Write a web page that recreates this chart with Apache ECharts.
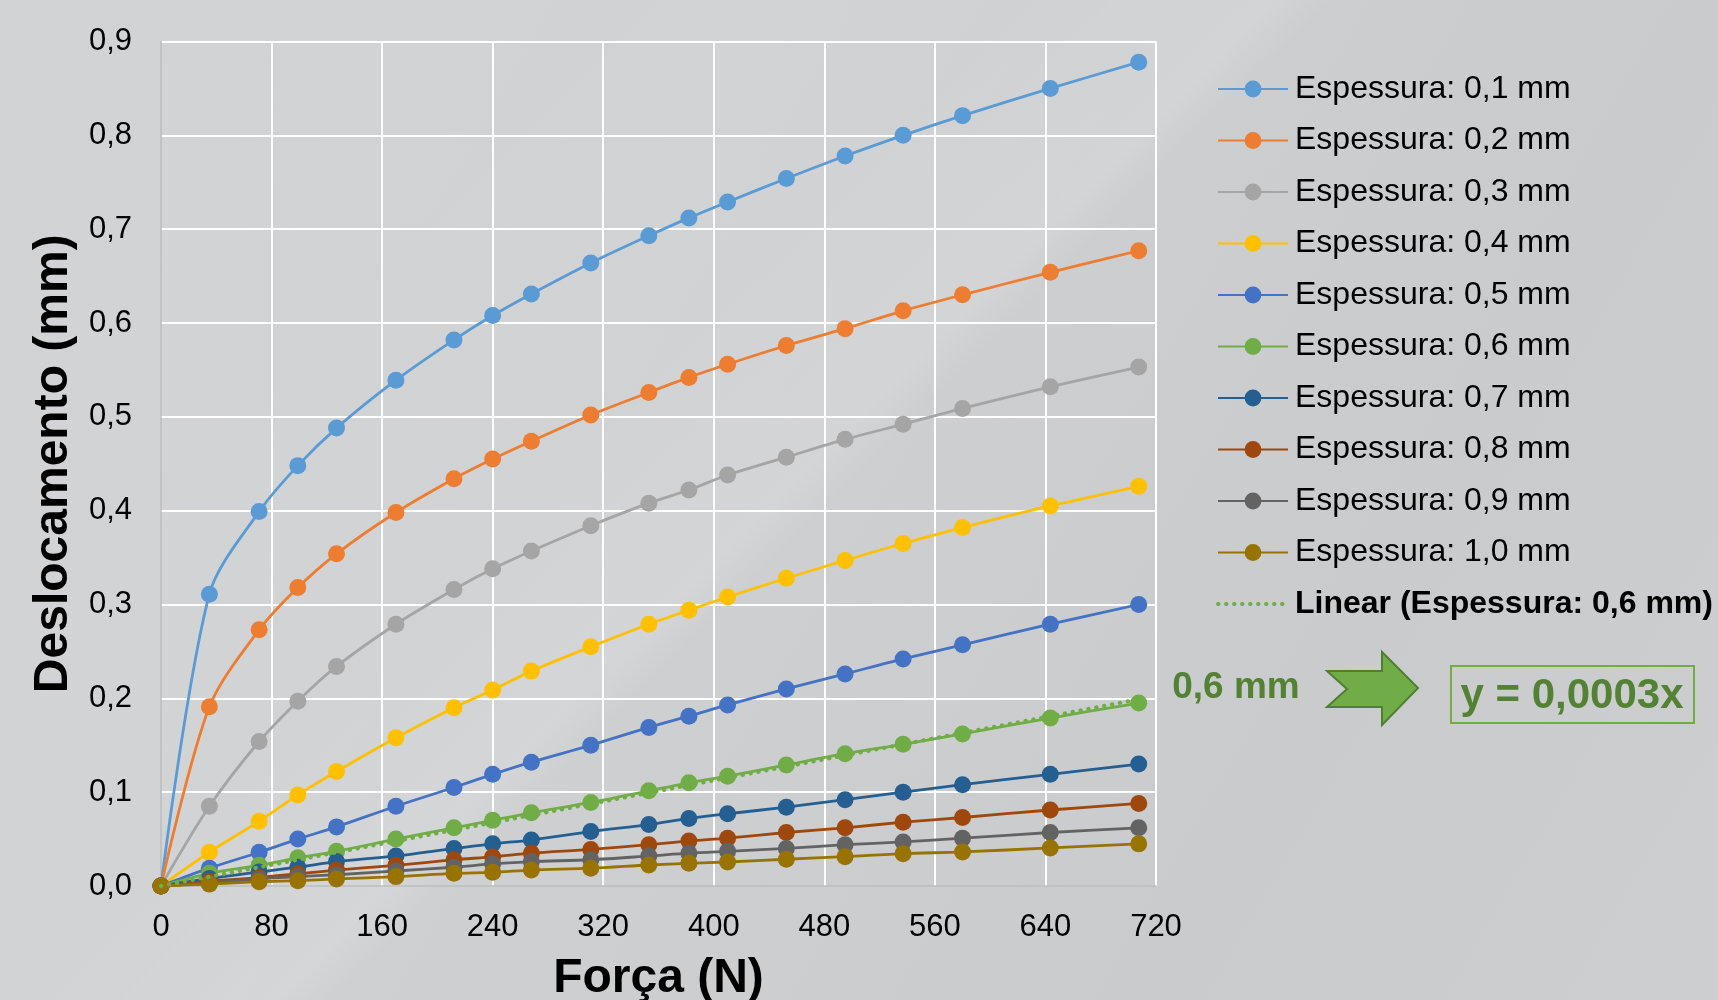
<!DOCTYPE html>
<html>
<head>
<meta charset="utf-8">
<script src="https://cdn.jsdelivr.net/npm/echarts@6/dist/echarts.min.js"></script>
<style>
html, body { margin: 0; padding: 0; width: 1718px; height: 1000px; overflow: hidden; }
body {
  background:
    linear-gradient(135deg, rgba(255,255,255,0) 0%, rgba(255,255,255,0.05) 38%, rgba(255,255,255,0.12) 47%, rgba(255,255,255,0) 49%, rgba(255,255,255,0) 100%),
    linear-gradient(120deg, #d2d3d5 0%, #cfd0d2 40%, #cacbcd 75%, #cdced0 100%);
}
#chart { width: 1718px; height: 1000px; }
</style>
</head>
<body>
<div id="chart"></div>
<script>
// ---- Data ----
const forceN = [0, 35, 71, 99, 127, 170, 212, 240, 268, 311, 353, 382, 410, 452.5, 495, 537, 580, 643.5, 707.5];
const esp01 = [0, 0.311, 0.399, 0.448, 0.488, 0.539, 0.582, 0.608, 0.631, 0.664, 0.693, 0.712, 0.729, 0.754, 0.778, 0.800, 0.821, 0.850, 0.878];
const esp02 = [0, 0.191, 0.273, 0.318, 0.354, 0.398, 0.434, 0.455, 0.474, 0.502, 0.526, 0.542, 0.556, 0.576, 0.594, 0.613, 0.630, 0.654, 0.677];
const esp03 = [0, 0.085, 0.154, 0.197, 0.234, 0.279, 0.316, 0.338, 0.357, 0.384, 0.408, 0.422, 0.438, 0.457, 0.476, 0.492, 0.509, 0.532, 0.553];
const esp04 = [0, 0.036, 0.069, 0.097, 0.122, 0.158, 0.190, 0.209, 0.229, 0.255, 0.279, 0.294, 0.308, 0.328, 0.347, 0.365, 0.382, 0.405, 0.426];
const esp05 = [0, 0.019, 0.036, 0.050, 0.063, 0.085, 0.105, 0.119, 0.132, 0.150, 0.169, 0.181, 0.193, 0.210, 0.226, 0.242, 0.257, 0.279, 0.300];
const esp06 = [0, 0.0135, 0.022, 0.030, 0.037, 0.050, 0.062, 0.070, 0.078, 0.089, 0.1015, 0.110, 0.117, 0.129, 0.141, 0.151, 0.162, 0.179, 0.195];
const esp07 = [0, 0.008, 0.015, 0.020, 0.026, 0.032, 0.040, 0.045, 0.049, 0.058, 0.0655, 0.072, 0.077, 0.084, 0.092, 0.100, 0.108, 0.119, 0.130];
const esp08 = [0, 0.005, 0.009, 0.013, 0.017, 0.022, 0.028, 0.031, 0.035, 0.039, 0.044, 0.048, 0.051, 0.057, 0.062, 0.068, 0.073, 0.081, 0.088];
const esp09 = [0, 0.003, 0.0075, 0.010, 0.012, 0.016, 0.020, 0.0235, 0.026, 0.028, 0.032, 0.035, 0.037, 0.040, 0.044, 0.047, 0.051, 0.057, 0.062];
const esp10 = [0, 0.002, 0.0046, 0.0057, 0.0075, 0.010, 0.0135, 0.0146, 0.017, 0.019, 0.0224, 0.0242, 0.0256, 0.0285, 0.0313, 0.0345, 0.0363, 0.0406, 0.0449];
// Linear trendline of the 0,6 mm series (endpoints)
const trendX = [0, 707.5];
const trendY = [0, 0.199];

const seriesNames = [
  'Espessura: 0,1 mm', 'Espessura: 0,2 mm', 'Espessura: 0,3 mm', 'Espessura: 0,4 mm', 'Espessura: 0,5 mm',
  'Espessura: 0,6 mm', 'Espessura: 0,7 mm', 'Espessura: 0,8 mm', 'Espessura: 0,9 mm', 'Espessura: 1,0 mm'
];
const trendName = 'Linear (Espessura: 0,6 mm)';
const xTicks = { min: 0, max: 720, step: 80 };
const yTicks = { min: 0, max: 0.9, step: 0.1 };
const annotationLabel = '0,6 mm';
const equationLabel = 'y = 0,0003x';

// ---- Styles ----
const seriesValues = [esp01, esp02, esp03, esp04, esp05, esp06, esp07, esp08, esp09, esp10];
const palette = ['#5b9bd5', '#ed7d31', '#a5a5a5', '#ffc000', '#4472c4', '#70ad47', '#255e91', '#9e480e', '#636363', '#997300'];
const FONT = '"Liberation Sans", Arial, sans-serif';

const pairs = (xs, ys) => xs.map((x, i) => [x, ys[i]]);
const fmt = (v, d) => v.toFixed(d).replace('.', ',');

const series = seriesValues.map((vals, i) => ({
  name: seriesNames[i],
  type: 'line',
  data: pairs(forceN, vals),
  smooth: 0.3,
  symbol: 'circle',
  symbolSize: 17,
  showSymbol: true,
  color: palette[i],
  lineStyle: { width: 2.8, color: palette[i] },
  itemStyle: { color: palette[i] },
  emphasis: { disabled: true },
  z: 2 + i * 0.01
}));
series.push({
  name: trendName,
  type: 'line',
  data: pairs(trendX, trendY),
  symbol: 'none',
  color: '#70ad47',
  lineStyle: { width: 4, color: '#70ad47', type: [0.5, 7.5], cap: 'round' },
  emphasis: { disabled: true },
  z: 3
});

const whiteSkipFirst = n => Array.from({ length: n }, (_, i) => i === 0 ? 'rgba(0,0,0,0)' : '#ffffff');

const chart = echarts.init(document.getElementById('chart'), null, { renderer: 'canvas' });
chart.setOption({
  animation: false,
  backgroundColor: 'transparent',
  textStyle: { fontFamily: FONT, color: '#000' },
  grid: { left: 161, top: 41.5, right: 562, bottom: 114, containLabel: false, outerBoundsMode: 'none' },
  xAxis: {
    type: 'value',
    min: xTicks.min, max: xTicks.max, interval: xTicks.step,
    name: 'Força (N)',
    nameLocation: 'middle',
    nameGap: 69,
    nameTextStyle: { fontFamily: FONT, fontSize: 48, fontWeight: 'bold', color: '#000' },
    axisLine: { show: true, onZero: false, lineStyle: { color: '#bdbdbd', width: 1.5 } },
    axisTick: { show: false },
    axisLabel: { fontFamily: FONT, fontSize: 31, color: '#000', margin: 26, formatter: v => String(v) },
    splitLine: { show: true, lineStyle: { color: whiteSkipFirst(10), width: 2 } }
  },
  yAxis: {
    type: 'value',
    min: yTicks.min, max: yTicks.max, interval: yTicks.step,
    name: 'Deslocamento (mm)',
    nameLocation: 'middle',
    nameGap: 73,
    nameRotate: 90,
    nameTextStyle: { fontFamily: FONT, fontSize: 48, fontWeight: 'bold', color: '#000' },
    axisLine: { show: true, onZero: false, lineStyle: { color: '#bdbdbd', width: 1.5 } },
    axisTick: { show: false },
    axisLabel: { fontFamily: FONT, fontSize: 31, color: '#000', margin: 29, formatter: v => fmt(v, 1) },
    splitLine: { show: true, lineStyle: { color: whiteSkipFirst(10), width: 2 } }
  },
  legend: {
    orient: 'vertical',
    left: 1216,
    top: 73,
    padding: 0,
    itemWidth: 70,
    itemHeight: 21,
    itemGap: 19.5,
    selectedMode: false,
    textStyle: { fontFamily: FONT, fontSize: 32, color: '#000', padding: [0, 0, 0, 2] },
    data: seriesNames.map(n => ({ name: n })).concat([{
      name: trendName,
      itemStyle: { opacity: 0 },
      lineStyle: { width: 4, color: '#70ad47', type: [0.5, 7.5], cap: 'round' },
      textStyle: { fontWeight: 'bold', fontFamily: FONT, fontSize: 32, color: '#000' }
    }])
  },
  series: series,
  graphic: [
    {
      type: 'text', z: 10,
      style: { text: annotationLabel, x: 1236, y: 688, fill: '#548235',
        font: 'bold 37px ' + FONT, align: 'center', verticalAlign: 'middle' }
    },
    {
      type: 'polygon', z: 10,
      shape: { points: [[1327, 671], [1382, 671], [1382, 652], [1418, 688], [1382, 725], [1382, 707], [1327, 707], [1347, 689]] },
      style: { fill: '#70ad47', stroke: '#507e32', lineWidth: 2 }
    },
    {
      type: 'rect', z: 10,
      shape: { x: 1451, y: 666, width: 243, height: 57 },
      style: { fill: 'none', stroke: '#70ad47', lineWidth: 2 }
    },
    {
      type: 'text', z: 10,
      style: { text: equationLabel, x: 1572, y: 696, fill: '#548235',
        font: 'bold 42px ' + FONT, align: 'center', verticalAlign: 'middle' }
    }
  ]
});
</script>
</body>
</html>
